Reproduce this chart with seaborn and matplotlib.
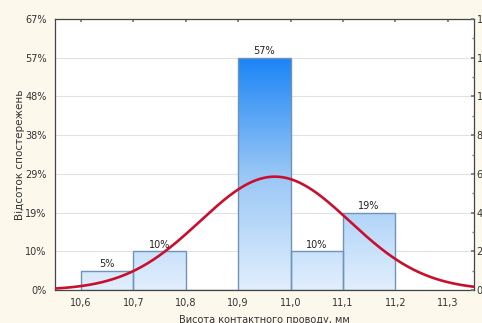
import numpy as np
import pandas as pd
import matplotlib
matplotlib.use("Agg")
import matplotlib.pyplot as plt
from matplotlib.colors import LinearSegmentedColormap
from matplotlib.ticker import FixedLocator, MultipleLocator
import seaborn as sns

# Histogram of contact-wire height (counts per 0.1 mm bin)
bin_left = [10.6, 10.7, 10.8, 10.9, 11.0, 11.1]
counts = [1, 2, 0, 12, 2, 4]
bin_width = 0.1
x_ticks = [10.6, 10.7, 10.8, 10.9, 11.0, 11.1, 11.2, 11.3]
count_ticks = [0, 2, 4, 6, 8, 10, 12, 14]

# Fitted normal curve parameters
fit_mean = 10.97
fit_sd = 0.143

total = sum(counts)
centers = [b + bin_width / 2 for b in bin_left]
edges = bin_left + [bin_left[-1] + bin_width]
df = pd.DataFrame({"height": centers, "n": counts})

sns.set_theme(style="white")
plt.rcParams["font.family"] = ["DejaVu Sans"]

bg = "#fcf8ec"
fig = plt.figure(figsize=(4.82, 3.23), dpi=100, facecolor=bg)
ax = fig.add_axes([0.114, 0.102, 0.869, 0.839])
ax.set_facecolor("white")

sns.histplot(data=df, x="height", weights="n", bins=edges, ax=ax,
             stat="count", edgecolor="#6f93bb", linewidth=1.0,
             facecolor="none", zorder=3)

ax.set_xlim(10.55, 11.35)
ax.set_ylim(0, 14)

# vertical blue gradient inside each bar
cmap = LinearSegmentedColormap.from_list("bluegrad", ["#e2effd", "#98c6f6", "#1a84f5"])
grad = np.linspace(0, 1, 256).reshape(-1, 1)
for p in ax.patches:
    if p.get_height() <= 0:
        continue
    im = ax.imshow(grad, cmap=cmap, origin="lower", aspect="auto",
                   extent=[10.55, 11.35, 0, 12], zorder=2)
    im.set_clip_path(p)
    p.set_zorder(4)
ax.set_xlim(10.55, 11.35)
ax.set_ylim(0, 14)

# percentage labels above bars
for c, n in zip(centers, counts):
    if n > 0:
        ax.text(c, n + 0.08, f"{round(n / total * 100)}%", ha="center", va="bottom",
                fontsize=7, color="#222222", zorder=6)

# normal curve scaled to counts
xs = np.linspace(10.55, 11.35, 300)
ys = total * bin_width * np.exp(-0.5 * ((xs - fit_mean) / fit_sd) ** 2) / (fit_sd * np.sqrt(2 * np.pi))
sns.lineplot(x=xs, y=ys, ax=ax, color="#c8102e", linewidth=1.9, zorder=5)

# grid and ticks
ax.yaxis.set_major_locator(FixedLocator(count_ticks))
ax.set_yticklabels([f"{round(c / total * 100)}%" for c in count_ticks])
ax.set_xticks(x_ticks)
ax.set_xticklabels([f"{t:.1f}".replace(".", ",") for t in x_ticks])
ax.grid(axis="y", color="#e2e2e2", linewidth=0.8, zorder=0)
ax.set_axisbelow(True)
ax.tick_params(axis="both", labelsize=7, colors="#333333", length=0, pad=6)
ax.tick_params(axis="x", top=True, direction="in", length=2, color="#777777", labeltop=False)
for s in ax.spines.values():
    s.set_color("#444444")
    s.set_linewidth(0.9)

ax2 = ax.twinx()
ax2.set_ylim(0, 14)
ax2.yaxis.set_major_locator(FixedLocator(count_ticks))
ax2.yaxis.set_minor_locator(MultipleLocator(1))
ax2.set_yticklabels([str(c) for c in count_ticks])
ax2.tick_params(axis="y", which="both", direction="in", length=2.5, color="#777777",
                labelsize=7, labelcolor="#333333", pad=2)
ax2.tick_params(axis="y", which="minor", length=1.5)
ax2.grid(False)
for s in ax2.spines.values():
    s.set_visible(False)

ax.set_xlabel("Висота контактного проводу, мм", fontsize=7, color="#333333", labelpad=5)
ax.set_ylabel("Відсоток спостережень", fontsize=7.5, color="#333333")
ax.yaxis.set_label_coords(-0.072, 0.5)

fig.savefig("out.png", dpi=100, facecolor=bg)
